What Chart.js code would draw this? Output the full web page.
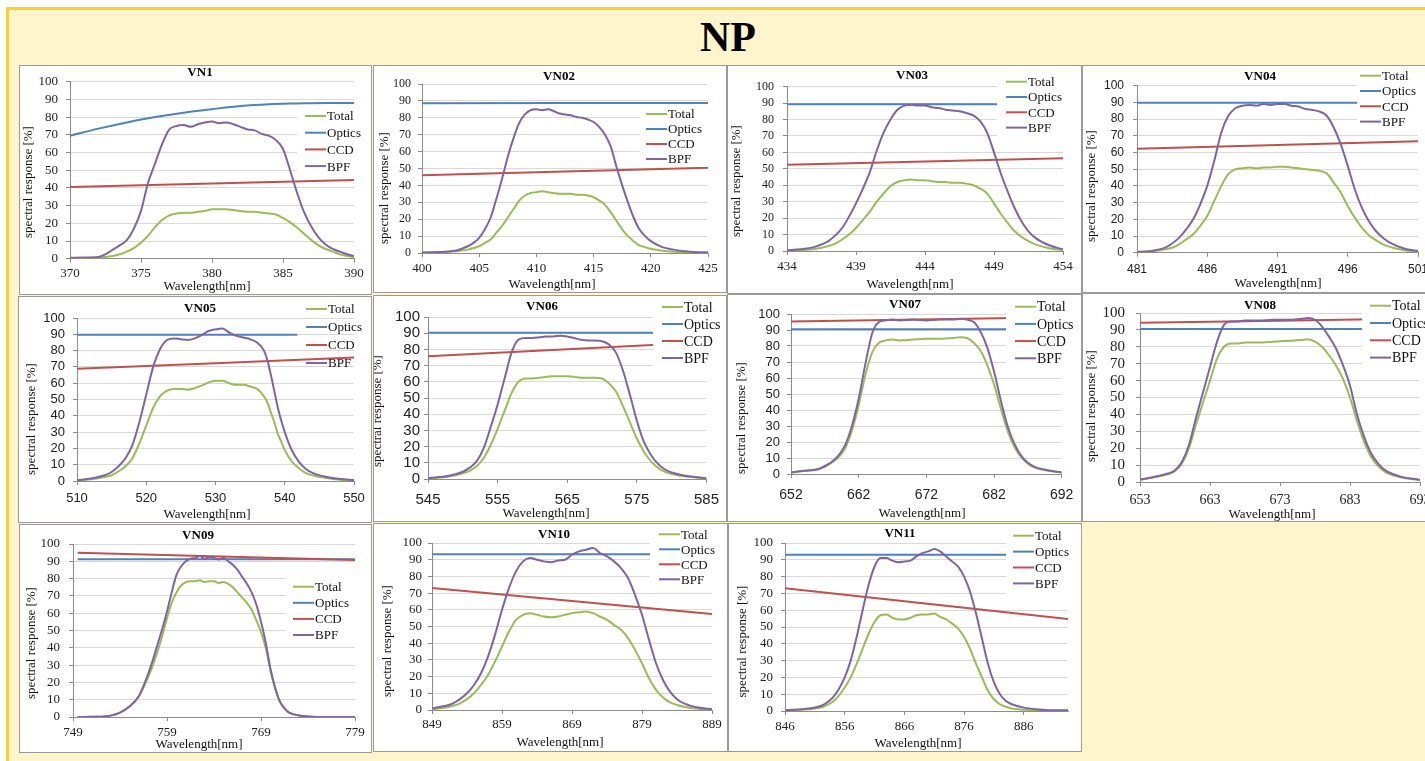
<!DOCTYPE html>
<html>
<head>
<meta charset="utf-8">
<script src="https://cdn.jsdelivr.net/npm/chart.js@4.4.1/dist/chart.umd.min.js"></script>
<style>
html, body { margin: 0; padding: 0; width: 1425px; height: 761px; overflow: hidden; background: #fff; }
#frame { position: absolute; left: 6px; top: 7px; width: 1460px; height: 790px; box-sizing: border-box;
         border: 3px solid #FFD22B; background: #FFF5CC; }
#np { position: absolute; left: 628px; top: 16px; width: 200px; text-align: center;
      font: bold 42px/42px 'Liberation Serif', 'Times New Roman', serif; color: #000; }
canvas { position: absolute; }
</style>
</head>
<body>
<div id="frame"></div>
<div id="np">NP</div>
<script>
// ---- VN1 ----
const vn1Wl = [370,371,372,372.5,373,373.5,374,374.5,375,375.5,376,376.5,377,377.5,378,378.5,379,379.5,380,380.5,381,381.5,382,382.5,383,383.5,384,384.5,385,385.5,386,386.5,387,387.5,388,388.5,389,389.5,390];
const vn1Bpf = [0.5,0.7,1,2.5,5,7.5,10.5,17,27,43,54,65,73,75,75.5,74.5,76,77,77.5,76.5,77,76,74.5,73,72.5,70.5,69.5,67,62,50,37,26,18,12,8,5.5,4,2.5,1.5];
const vn1Total = [0.3,0.4,0.6,1,1.5,2.5,4,6,9,13,18,22,24.5,25.5,26,26,26.5,27,28,28,28,27.5,27,26.5,26.5,26,25.5,25,23,20.5,17.5,14,10.5,7.5,5.5,4,2.5,1.5,1];
const vn1OpticsWl = [370,372,374,376,378,380,382,384,386,388,390];
const vn1Optics = [69.5,73.5,77,80,82.5,84.5,86.3,87.3,87.7,88,88];
const vn1CcdWl = [370,390];
const vn1Ccd = [40.5,44.5];
const vn1Range = [370,390];
const vn1Ticks = [370,375,380,385,390];

// ---- VN02 ----
const vn02Wl = [400,401,402,403,404,404.5,405,405.5,406,406.5,407,407.5,408,408.5,409,409.5,410,410.5,411,411.5,412,412.5,413,413.5,414,414.5,415,415.5,416,416.5,417,417.5,418,418.5,419,419.5,420,421,422,423,424,425];
const vn02Bpf = [0.3,0.5,0.8,1.5,4,6,9,14,21,32,44,57,68,77,82,84.5,85,84.5,85,84,82.5,82,81.5,80.5,80,79,77.5,74.5,70,63,51,40,30,21,14,10,7,3.5,2,1,0.5,0.3];
const vn02Total = [0.2,0.3,0.5,1,2,3,4,6,8,12,16,21,26,31,34,35.5,36,36.5,36,35.5,35,35,35,34.5,34.5,34,33,31,28.5,24,19,14,10,7,4.5,3.5,2.5,1.3,0.7,0.4,0.3,0.2];
const vn02OpticsWl = [400,425];
const vn02Optics = [88.6,88.8];
const vn02CcdWl = [400,425];
const vn02Ccd = [46,50.5];
const vn02Range = [400,425];
const vn02Ticks = [400,405,410,415,420,425];

// ---- VN03 ----
const vn03Wl = [434,435,436,437,437.5,438,438.5,439,439.5,440,440.5,441,441.5,442,442.5,443,443.5,444,444.5,445,445.5,446,446.5,447,447.5,448,448.5,449,449.5,450,450.5,451,451.5,452,453,454];
const vn03Bpf = [0.5,1,2.5,6,9.5,14,21,29,38,48,61,72,80,86,88.5,89,88.5,88.5,87.5,87,86,85.5,85,84,82.5,79,72,60,47,36,26,18,12,8,3.5,1];
const vn03Total = [0.3,0.5,1.2,3,4.5,7,10,14,19,24,30,35,39.5,42,43,43.5,43,43,42.5,42,42,41.5,41.5,41,40,38,35,29,22.5,17,12,8.5,6,4,1.7,0.5];
const vn03OpticsWl = [434,454];
const vn03Optics = [89.3,89.3];
const vn03CcdWl = [434,454];
const vn03Ccd = [52.5,56.5];
const vn03Range = [434,454];
const vn03Ticks = [434,439,444,449,454];

// ---- VN04 ----
const vn04Wl = [481,482,483,483.5,484,484.5,485,485.5,486,486.5,487,487.5,488,488.5,489,489.5,490,490.5,491,491.5,492,492.5,493,493.5,494,494.5,495,495.5,496,496.5,497,497.5,498,498.5,499,500,501];
const vn04Bpf = [0.5,1,3,5.5,9,14,20,29,40,55,72,82,86.5,88,88.5,88,89,88.5,89,89,88,87.5,86,85.5,84.5,82,75,65,52,38,27,19,13,9,6,2.5,1];
const vn04Total = [0.3,0.8,2,3,5,8,11,16,22,31,40,47,50,50.5,51,50.5,51,51,51.5,51.5,51,50.5,50,49.5,49,47.5,42,36,28,21,15,10.5,7.5,5,3.5,1.5,0.5];
const vn04OpticsWl = [481,501];
const vn04Optics = [89.8,89.8];
const vn04CcdWl = [481,501];
const vn04Ccd = [62.3,66.7];
const vn04Range = [481,501];
const vn04Ticks = [481,486,491,496,501];

// ---- VN05 ----
const vn05Wl = [510,512,514,515,516,517,518,519,520,521,522,523,524,525,526,527,528,529,530,531,532,533,534,535,536,537,537.5,538,538.5,539,539.5,540,541,542,543,544,546,548,550];
const vn05Bpf = [0.5,1.5,3.5,5.5,9,14,22,36,53,70,81,86.5,87.5,87,86.5,87.5,89.5,92,93,93.5,91,89,88,87,85,80,74,65,55,45,37,30,19,12,7.5,5,2.5,1.2,0.6];
const vn05Total = [0.3,1,2.5,3.5,6,9,14,23,34,45,52,55.5,56.5,56.5,56,57,58.5,60.5,61.5,61.5,60,59,59,58,56.5,52,48,42,36,29,24,19,12,8,5,3.5,1.8,0.8,0.4];
const vn05OpticsWl = [510,541.8];
const vn05Optics = [89.8,89.8];
const vn05CcdWl = [510,550];
const vn05Ccd = [68.8,75.8];
const vn05Range = [510,550];
const vn05Ticks = [510,520,530,540,550];

// ---- VN06 ----
const vn06Wl = [545,548,550,551,552,553,554,555,556,557,558,559,560,561,562,563,564,565,566,567,568,569,570,571,572,573,574,575,576,577,578,579,580,582,585];
const vn06Bpf = [0.5,2,4.5,7,11,19,32,46,62,78,86,87,87,87.5,88,88,88.5,88,87,86,85.5,85.5,85,83,78,67,52,36,23,15,9.5,6,4,2,0.5];
const vn06Total = [0.3,1.5,3.5,5,8,13,21,31,42,53,60,62,62,62.5,63,63.5,63.5,63.5,63,62.5,62.5,62.5,62,59,54,45,35,25,17,11,7,4.5,3,1.5,0.4];
const vn06OpticsWl = [545,585];
const vn06Optics = [90.3,90.3];
const vn06CcdWl = [545,585];
const vn06Ccd = [75.8,84.4];
const vn06Range = [545,585];
const vn06Ticks = [545,555,565,575,585];

// ---- VN07 ----
const vn07Wl = [652,654,656,657,658,659,660,661,662,663,664,665,666,667,668,670,672,674,676,677,678,679,680,681,682,683,684,685,686,687,688,690,692];
const vn07Bpf = [1,2,3,5,7.5,11.5,18,30,47,69,88,95,96,96.5,96,96.5,96,96.5,96.5,97,96.5,95,89,79,64,46,30,19,11.5,7,4.5,2.3,1];
const vn07Total = [0.8,2,3,4.5,7,10.5,16,27,43,62,76,82,83.5,84,83.5,84,84.5,84.5,85,85.5,85,82,77,68,56,41,27,17,10.5,6.5,4,2,0.8];
const vn07OpticsWl = [652,692];
const vn07Optics = [90.5,90.5];
const vn07CcdWl = [652,692];
const vn07Ccd = [95.3,98];
const vn07Range = [652,692];
const vn07Ticks = [652,662,672,682,692];

// ---- VN08 ----
const vn08Wl = [653,655,657,658,659,660,661,662,663,664,665,666,667,668,670,672,674,676,677,678,679,680,681,682,683,684,685,686,687,688,690,693];
const vn08Bpf = [1.5,3,5,7,12,22,38,53,68,83,93,95,95,95.5,95.5,96,96,96.5,97,96,92,86,79,69,57,40,27,17,11,7,3.5,1.2];
const vn08Total = [1.3,2.8,4.5,6.5,11,20,34,47,60,73,80,82,82,82.5,82.5,83,83.5,84,84.5,83,80,75,69,61,50,36,24,15,9.5,6,3,1];
const vn08OpticsWl = [653,693];
const vn08Optics = [90.6,90.6];
const vn08CcdWl = [653,693];
const vn08Ccd = [94.2,96.7];
const vn08Range = [653,693];
const vn08Ticks = [653,663,673,683,693];

// ---- VN09 ----
const vn09Wl = [749.5,751,752,753,754,755,756,757,757.5,758,758.5,759,759.5,760,760.5,761,761.5,762,762.5,763,763.5,764,764.5,765,765.5,766,766.5,767,767.5,768,768.5,769,769.5,770,770.5,771,771.5,772,773,774,776,779];
const vn09Bpf = [0,0.1,0.2,0.8,2.5,6,12,25,33,42,51,61,72,82,87,90,91.5,92,93,91.5,92.5,92,91,92,90,88,85,81,77,72,65,55,43,28,17,9,5,2.5,1,0.3,0,0];
const vn09Total = [0,0.1,0.2,0.8,2.5,6,12,23,30,38,47,57,66,72,76,78,78.5,78.5,79,78,78.5,78.5,77.5,78,77,75,72,69,66,62,56,49,40,27,16.5,9,5,2.5,0.8,0.3,0,0];
const vn09OpticsWl = [749.5,779];
const vn09Optics = [91.2,91.2];
const vn09CcdWl = [749.5,779];
const vn09Ccd = [95,90.8];
const vn09Range = [749,779];
const vn09Ticks = [749,759,769,779];

// ---- VN10 ----
const vn10Wl = [849,851,852,853,854,855,856,857,858,859,860,861,862,863,864,865,866,867,868,869,870,871,872,873,874,875,876,877,878,879,880,881,882,883,884,885,887,889];
const vn10Bpf = [1,2.5,4,6.5,10,15,22,32,45,60,73,83,89,91,90,89,88.5,89.5,90,93,95,96,97,94,92,89,85,79,69,57,42,28,18,11,6.5,4,1.5,0.5];
const vn10Total = [0.5,1.5,2.5,4,6.5,10,15,21,29,38,47,54,57,58,57,56,55.5,56,57,58,58.5,59,58,56,54,51,48,43,36,28,19,12,7.5,4.5,3,2,0.8,0.3];
const vn10OpticsWl = [849,889];
const vn10Optics = [93.2,93.2];
const vn10CcdWl = [849,889];
const vn10Ccd = [73,57.5];
const vn10Range = [849,889];
const vn10Ticks = [849,859,869,879,889];

// ---- VN11 ----
const vn11Wl = [846,850,852,853,854,855,856,857,858,859,860,861,862,863,864,865,866,867,868,869,870,871,872,873,874,875,876,877,878,879,880,881,882,883,884,886,888,890,893.4];
const vn11Bpf = [0.5,1.5,3,5,8,13,20,30,44,60,75,86,91,91,89.5,88.5,89,89.5,92,94,95,96.5,95,92,89,86,80,71,58,43,28,17,10,6,4,2,1,0.5,0.5];
const vn11Total = [0.3,1,2,3.5,5.5,9,14,20,28,37,46,53,57,57.5,55.5,54.5,54.5,55.5,57,57.5,57.5,58,56,54.5,52,49,44,37,28,20,12,7,4,2.5,1.5,0.8,0.3,0.2,0.2];
const vn11OpticsWl = [846,893.4];
const vn11Optics = [93,93];
const vn11CcdWl = [846,893.4];
const vn11Ccd = [73,54.8];
const vn11Range = [846,893.4];
const vn11Ticks = [846,856,866,876,886];

const SERIF = "'Liberation Serif', 'Times New Roman', serif";
const SANS = "'Liberation Sans', Arial, sans-serif";
const COLORS = { Total: '#9BBB59', Optics: '#4F81BD', CCD: '#C0504D', BPF: '#8064A2' };
const AXIS = '#8c8c8c';

// layout of each panel (absolute page pixels)
const panels = [
  { name: 'VN1', wl: vn1Wl, total: vn1Total, bpf: vn1Bpf, opticsWl: vn1OpticsWl, optics: vn1Optics, ccdWl: vn1CcdWl, ccd: vn1Ccd, range: vn1Range, ticks: vn1Ticks,
    box: [19, 65, 372, 295], area: [70, 81.7, 354, 258.7], tick: { fam: SERIF, y: 13, x: 13, yPad: 8, xLab: 274 },
    title: [200, 73], xTitle: [207, 287], yTitle: [29, 182], legend: { x: 305, y: 116, gap: 16.7, size: 13, box: [297, 106, 370, 176] } },
  { name: 'VN02', wl: vn02Wl, total: vn02Total, bpf: vn02Bpf, opticsWl: vn02OpticsWl, optics: vn02Optics, ccdWl: vn02CcdWl, ccd: vn02Ccd, range: vn02Range, ticks: vn02Ticks,
    box: [373, 65, 727, 293], area: [422, 84, 708, 253], tick: { fam: SERIF, y: 12, x: 13, yPad: 7, xLab: 269 },
    title: [559, 77], xTitle: [552, 285], yTitle: [385, 188], legend: { x: 646, y: 114, gap: 15, size: 13, box: [640, 105, 712, 167] } },
  { name: 'VN03', wl: vn03Wl, total: vn03Total, bpf: vn03Bpf, opticsWl: vn03OpticsWl, optics: vn03Optics, ccdWl: vn03CcdWl, ccd: vn03Ccd, range: vn03Range, ticks: vn03Ticks,
    box: [727, 65, 1082, 294], area: [787, 86.7, 1063, 251], tick: { fam: SERIF, y: 12, x: 13, yPad: 9, xLab: 267 },
    title: [912, 76], xTitle: [910, 285], yTitle: [737, 181], legend: { x: 1006, y: 81.7, gap: 15.3, size: 13, box: [997, 72, 1080, 140] } },
  { name: 'VN04', wl: vn04Wl, total: vn04Total, bpf: vn04Bpf, opticsWl: vn04OpticsWl, optics: vn04Optics, ccdWl: vn04CcdWl, ccd: vn04Ccd, range: vn04Range, ticks: vn04Ticks,
    box: [1082, 65, 1445, 293], area: [1137, 85.7, 1418, 252.7], tick: { fam: SANS, y: 12, x: 12, yPad: 9, xLab: 270 },
    title: [1260, 77], xTitle: [1278, 284], yTitle: [1092, 186], legend: { x: 1360, y: 75.7, gap: 15.3, size: 13, box: [1357, 67, 1445, 130] } },
  { name: 'VN05', wl: vn05Wl, total: vn05Total, bpf: vn05Bpf, opticsWl: vn05OpticsWl, optics: vn05Optics, ccdWl: vn05CcdWl, ccd: vn05Ccd, range: vn05Range, ticks: vn05Ticks,
    box: [18, 296, 372, 523], area: [77, 318, 354, 481], tick: { fam: SANS, y: 13, x: 13, yPad: 8, xLab: 498 },
    title: [200, 309], xTitle: [207, 515], yTitle: [32, 419], legend: { x: 306, y: 309, gap: 18, size: 13, box: null } },
  { name: 'VN06', wl: vn06Wl, total: vn06Total, bpf: vn06Bpf, opticsWl: vn06OpticsWl, optics: vn06Optics, ccdWl: vn06CcdWl, ccd: vn06Ccd, range: vn06Range, ticks: vn06Ticks,
    box: [373, 295, 727, 522], area: [428, 317, 708, 479], tick: { fam: SANS, y: 15, x: 15, yPad: 4, xLab: 500 },
    title: [542, 307], xTitle: [546, 514], yTitle: [378, 411], legend: { x: 662, y: 307, gap: 17, size: 14, box: [653, 296, 725, 366] } },
  { name: 'VN07', wl: vn07Wl, total: vn07Total, bpf: vn07Bpf, opticsWl: vn07OpticsWl, optics: vn07Optics, ccdWl: vn07CcdWl, ccd: vn07Ccd, range: vn07Range, ticks: vn07Ticks,
    box: [727, 294, 1082, 522], area: [791, 314, 1063, 474], tick: { fam: SANS, y: 13, x: 14, yPad: 7, xLab: 495 },
    title: [905, 305], xTitle: [922, 514], yTitle: [742, 418], legend: { x: 1015, y: 306.7, gap: 17.2, size: 14, box: [1006, 296, 1080, 367] } },
  { name: 'VN08', wl: vn08Wl, total: vn08Total, bpf: vn08Bpf, opticsWl: vn08OpticsWl, optics: vn08Optics, ccdWl: vn08CcdWl, ccd: vn08Ccd, range: vn08Range, ticks: vn08Ticks,
    box: [1082, 293, 1445, 522], area: [1140, 312, 1420, 482], tick: { fam: SERIF, y: 15, x: 14, yPad: 11, xLab: 500 },
    title: [1260, 306], xTitle: [1272, 515], yTitle: [1092, 406], legend: { x: 1370, y: 305.7, gap: 17.3, size: 14, box: [1362, 295, 1445, 366] } },
  { name: 'VN09', wl: vn09Wl, total: vn09Total, bpf: vn09Bpf, opticsWl: vn09OpticsWl, optics: vn09Optics, ccdWl: vn09CcdWl, ccd: vn09Ccd, range: vn09Range, ticks: vn09Ticks,
    box: [19, 524, 372, 753], area: [73, 544, 355, 717], tick: { fam: SERIF, y: 13, x: 13, yPad: 9, xLab: 733 },
    title: [198, 536], xTitle: [199, 745], yTitle: [32, 643], legend: { x: 293, y: 586.7, gap: 16.1, size: 13, box: [286, 577, 370, 645] } },
  { name: 'VN10', wl: vn10Wl, total: vn10Total, bpf: vn10Bpf, opticsWl: vn10OpticsWl, optics: vn10Optics, ccdWl: vn10CcdWl, ccd: vn10Ccd, range: vn10Range, ticks: vn10Ticks,
    box: [373, 523, 728, 752], area: [432, 543, 712, 710], tick: { fam: SERIF, y: 13, x: 13, yPad: 6, xLab: 725 },
    title: [554, 535], xTitle: [560, 743], yTitle: [388, 641], legend: { x: 659, y: 534.3, gap: 15, size: 13, box: [650, 525, 726, 589] } },
  { name: 'VN11', wl: vn11Wl, total: vn11Total, bpf: vn11Bpf, opticsWl: vn11OpticsWl, optics: vn11Optics, ccdWl: vn11CcdWl, ccd: vn11Ccd, range: vn11Range, ticks: vn11Ticks,
    box: [728, 523, 1082, 752], area: [785, 543, 1068, 711], tick: { fam: SERIF, y: 13, x: 13, yPad: 8, xLab: 727 },
    title: [900, 534], xTitle: [918, 744], yTitle: [743, 641.5], legend: { x: 1013, y: 535.7, gap: 15.9, size: 13, box: [1006, 525, 1080, 594] } }
];

function pts(xs, ys) {
  return xs.map((x, i) => ({ x: x, y: ys[i] }));
}

// panel background, legend (Excel style, drawn over the lines) and texts
function makeDeco(p) {
  const ox = p.box[0], oy = p.box[1];
  return {
    id: 'deco' + p.name,
    beforeDraw(chart) {
      const c = chart.ctx;
      c.save();
      c.fillStyle = '#fff';
      c.fillRect(0, 0, chart.width, chart.height);
      c.restore();
    },
    afterDatasetsDraw(chart) {
      const c = chart.ctx, L = p.legend;
      c.save();
      if (L.box) {
        c.fillStyle = '#fff';
        c.fillRect(L.box[0] - ox, L.box[1] - oy, L.box[2] - L.box[0], L.box[3] - L.box[1]);
      }
      c.font = L.size + 'px ' + SERIF;
      c.textBaseline = 'middle';
      c.textAlign = 'left';
      chart.data.datasets.forEach((ds, i) => {
        const x = L.x - ox, y = L.y - oy + i * L.gap;
        c.strokeStyle = ds.borderColor;
        c.lineWidth = 2;
        c.beginPath();
        c.moveTo(x, y);
        c.lineTo(x + 21, y);
        c.stroke();
        c.fillStyle = '#111';
        c.fillText(ds.label, x + 22, y + 1);
      });
      c.restore();
    },
    afterDraw(chart) {
      const c = chart.ctx;
      c.save();
      c.fillStyle = '#000';
      c.textAlign = 'center';
      c.textBaseline = 'middle';
      c.font = 'bold 13px ' + SERIF;
      c.fillText(p.name, p.title[0] - ox, p.title[1] - oy);
      c.fillStyle = '#111';
      c.font = '13px ' + SERIF;
      c.fillText('Wavelength[nm]', p.xTitle[0] - ox, p.xTitle[1] - oy);
      c.translate(p.yTitle[0] - ox, p.yTitle[1] - oy);
      c.rotate(-Math.PI / 2);
      c.fillText('spectral response [%]', 0, 0);
      c.restore();
      c.save();
      c.strokeStyle = '#9a9a9a';
      c.lineWidth = 1;
      c.strokeRect(0.5, 0.5, chart.width - 1, chart.height - 1);
      c.restore();
    }
  };
}

panels.forEach(p => {
  const [x0, y0, x1, y1] = p.box;
  const [al, at, ar, ab] = p.area;
  const cv = document.createElement('canvas');
  cv.width = x1 - x0;
  cv.height = y1 - y0;
  cv.style.left = x0 + 'px';
  cv.style.top = y0 + 'px';
  document.body.appendChild(cv);

  const line = (label, data, order) => ({
    label: label, data: data, borderColor: COLORS[label], backgroundColor: COLORS[label],
    borderWidth: 2, pointRadius: 0, cubicInterpolationMode: 'monotone', fill: false, order: order
  });

  new Chart(cv, {
    type: 'line',
    data: {
      datasets: [
        line('Total', pts(p.wl, p.total), 4),
        line('Optics', pts(p.opticsWl, p.optics), 3),
        line('CCD', pts(p.ccdWl, p.ccd), 2),
        line('BPF', pts(p.wl, p.bpf), 1)
      ]
    },
    options: {
      responsive: false,
      animation: false,
      events: [],
      layout: { padding: { left: 0, top: at - y0, right: x1 - ar, bottom: 0 } },
      plugins: { legend: { display: false }, title: { display: false }, tooltip: { enabled: false } },
      scales: {
        x: {
          type: 'linear',
          min: p.range[0],
          max: p.range[1],
          afterBuildTicks: s => { s.ticks = p.ticks.map(v => ({ value: v })); },
          afterFit: s => { s.height = y1 - ab; },
          grid: { drawOnChartArea: false, tickLength: 4, tickColor: AXIS },
          border: { color: AXIS },
          ticks: {
            font: { family: p.tick.fam, size: p.tick.x },
            color: '#222',
            maxRotation: 0,
            autoSkip: false,
            padding: Math.max(0, p.tick.xLab - ab - 4 - p.tick.x * 0.6)
          }
        },
        y: {
          min: 0,
          max: 100,
          afterFit: s => { s.width = al - x0; },
          grid: { color: '#D9D9D9', tickLength: 4, tickColor: AXIS },
          border: { color: AXIS },
          ticks: { stepSize: 10, autoSkip: false, font: { family: p.tick.fam, size: p.tick.y }, color: '#222', padding: p.tick.yPad }
        }
      }
    },
    plugins: [makeDeco(p)]
  });
});
</script>
</body>
</html>
